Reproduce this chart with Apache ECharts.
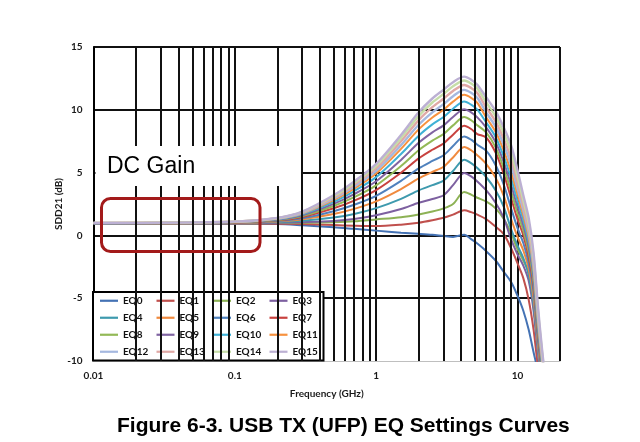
<!DOCTYPE html>
<html><head><meta charset="utf-8">
<script src="https://cdn.jsdelivr.net/npm/echarts@6/dist/echarts.min.js"></script>
<style>html,body{margin:0;padding:0;background:#fff;}#c{width:640px;height:442px;}</style>
</head><body><div id="c"></div>
<script>
// ---------- DATA ----------
const freqGHz = [0.01, 0.1, 0.2, 0.3, 0.5, 0.7, 1, 1.5, 2, 2.5, 3, 3.5, 4.2, 4.7, 5.2, 6, 7, 8, 9, 10, 11, 12, 13, 14, 15, 16];

const eq0  = [0.95, 0.93, 0.9, 0.8, 0.65, 0.52, 0.38, 0.22, 0.13, 0.05, -0.05, -0.12, 0.05, -0.3, -0.65, -1.25, -2.0, -2.9, -3.7, -4.8, -6.0, -7.5, -9.3, -10.8, -12, -13];
const eq1  = [0.95, 0.95, 0.93, 0.9, 0.82, 0.77, 0.74, 0.85, 1.0, 1.2, 1.4, 1.65, 2.0, 1.85, 1.65, 1.3, 0.7, 0.1, -1.0, -2.2, -3.4, -5.1, -7.5, -10.5, -12, -13];
const eq2  = [0.95, 0.97, 0.98, 1.0, 1.05, 1.12, 1.27, 1.45, 1.67, 1.9, 2.15, 2.5, 3.45, 3.25, 3.0, 2.7, 2.15, 1.3, 0.2, -1.1, -2.0, -3.0, -5.6, -9.0, -11.5, -13];
const eq3  = [0.95, 0.97, 1.0, 1.05, 1.15, 1.3, 1.6, 2.1, 2.6, 2.9, 3.2, 4.0, 4.97, 4.7, 4.3, 3.6, 2.6, 1.4, -0.3, -1.5, -2.4, -3.6, -6.0, -9.5, -12, -13];
const eq4  = [0.96, 0.99, 1.06, 1.17, 1.43, 1.71, 2.17, 2.91, 3.59, 4.0, 4.36, 5.13, 6.03, 5.76, 5.36, 4.65, 3.6, 2.28, 0.53, -0.8, -1.8, -3.13, -5.5, -9.13, -11.75, -13];
const eq5  = [0.96, 1.0, 1.11, 1.28, 1.7, 2.11, 2.71, 3.69, 4.54, 5.06, 5.47, 6.21, 7.04, 6.78, 6.38, 5.7, 4.6, 3.15, 1.35, -0.1, -1.2, -2.65, -5.0, -8.75, -11.5, -13];
const eq6  = [0.97, 1.02, 1.15, 1.37, 1.93, 2.44, 3.15, 4.34, 5.33, 5.93, 6.38, 7.11, 7.88, 7.62, 7.22, 6.75, 5.6, 4.03, 2.18, 0.6, -0.6, -2.18, -4.5, -8.38, -11.25, -13];
const eq7  = [0.98, 1.03, 1.2, 1.47, 2.16, 2.77, 3.61, 4.99, 6.13, 6.82, 7.32, 8.02, 8.73, 8.47, 8.07, 7.8, 6.6, 4.9, 3.0, 1.3, 0.0, -1.7, -4.0, -8.0, -11, -13];
const eq8  = [0.98, 1.05, 1.23, 1.54, 2.34, 3.04, 3.98, 5.52, 6.78, 7.54, 8.07, 8.76, 9.42, 9.17, 8.77, 8.2, 7.01, 5.36, 3.53, 1.79, 0.4, -1.31, -3.68, -7.73, -10.79, -12.88];
const eq9  = [0.98, 1.06, 1.27, 1.61, 2.51, 3.29, 4.31, 6.01, 7.37, 8.2, 8.76, 9.43, 10.05, 9.8, 9.4, 8.6, 7.43, 5.83, 4.05, 2.28, 0.8, -0.93, -3.35, -7.45, -10.58, -12.75];
const eq10 = [0.99, 1.07, 1.3, 1.68, 2.67, 3.53, 4.64, 6.48, 7.94, 8.84, 9.43, 10.08, 10.66, 10.41, 10.01, 9.0, 7.84, 6.29, 4.58, 2.76, 1.2, -0.54, -3.03, -7.18, -10.36, -12.63];
const eq11 = [0.99, 1.08, 1.32, 1.74, 2.81, 3.73, 4.93, 6.89, 8.44, 9.39, 10.01, 10.65, 11.19, 10.95, 10.55, 9.4, 8.25, 6.75, 5.1, 3.25, 1.6, -0.15, -2.7, -6.9, -10.15, -12.5];
const eq12 = [0.99, 1.08, 1.35, 1.78, 2.92, 3.89, 5.14, 7.19, 8.81, 9.8, 10.45, 11.08, 11.59, 11.35, 10.95, 9.8, 8.66, 7.21, 5.63, 3.74, 2.0, 0.24, -2.38, -6.63, -9.94, -12.38];
const eq13 = [1.0, 1.09, 1.37, 1.83, 3.02, 4.04, 5.35, 7.49, 9.18, 10.21, 10.88, 11.5, 11.98, 11.74, 11.34, 10.2, 9.08, 7.68, 6.15, 4.23, 2.4, 0.63, -2.05, -6.35, -9.73, -12.25];
const eq14 = [1.0, 1.1, 1.38, 1.87, 3.12, 4.18, 5.54, 7.76, 9.51, 10.58, 11.26, 11.87, 12.33, 12.09, 11.69, 10.6, 9.49, 8.14, 6.68, 4.71, 2.8, 1.01, -1.73, -6.08, -9.51, -12.13];
const eq15 = [1.0, 1.1, 1.4, 1.9, 3.2, 4.3, 5.7, 8.0, 9.8, 10.9, 11.6, 12.2, 12.64, 12.4, 12.0, 11.0, 9.9, 8.6, 7.2, 5.2, 3.2, 1.4, -1.4, -5.8, -9.3, -12];

const seriesNames = ['EQ0','EQ1','EQ2','EQ3','EQ4','EQ5','EQ6','EQ7','EQ8','EQ9','EQ10','EQ11','EQ12','EQ13','EQ14','EQ15'];
const seriesColors = ['#4472B4','#C0504D','#8DB255','#7D60A0','#3E9AAE','#F08A3E','#4F81BD','#C8423F','#93B957','#8064A2','#3FB1D6','#F7923F','#A5B8DF','#E0A9A6','#C6DDA8','#BCB0D3'];
const xTickLabels = ['0.01', '0.1', '1', '10'];
const minorGridFreqs = [0.02,0.03,0.04,0.05,0.06,0.07,0.08,0.09,0.2,0.3,0.4,0.5,0.6,0.7,0.8,0.9,2,3,4,5,6,7,8,9,20];

// ---------- CHART ----------
const allValues = [eq0,eq1,eq2,eq3,eq4,eq5,eq6,eq7,eq8,eq9,eq10,eq11,eq12,eq13,eq14,eq15];
const boldFont = {fontFamily: 'Lato', fontWeight: 'bold', fontSize: 10, color: '#1a1a1a'};

const series = allValues.map((vals, k) => ({
  name: seriesNames[k],
  type: 'line',
  data: freqGHz.map((f, i) => [f, vals[i]]),
  symbol: 'none',
  smooth: 0.3,
  clip: true,
  z: 3,
  lineStyle: {width: k >= 12 ? 2.4 : 2, color: seriesColors[k]},
  itemStyle: {color: seriesColors[k]},
  emphasis: {disabled: true}
}));

series.unshift({
  name: 'grid',
  type: 'line',
  data: [],
  z: 1,
  silent: true,
  markLine: {
    silent: true,
    symbol: ['none', 'none'],
    label: {show: false},
    animation: false,
    lineStyle: {color: '#111', width: 2, type: 'solid'},
    emphasis: {disabled: true},
    data: minorGridFreqs.map(f => ({xAxis: f}))
  }
});

const option = {
  animation: false,
  backgroundColor: '#fff',
  grid: {left: 93.5, top: 47, width: 466.5, height: 314},
  title: {
    text: 'Figure 6-3. USB TX (UFP) EQ Settings Curves',
    left: 117, top: 416, padding: 0,
    textStyle: {fontFamily: 'Liberation Sans', fontWeight: 'bold', fontSize: 21, color: '#000'}
  },
  legend: {
    data: seriesNames,
    left: 93, top: 292,
    width: 240,
    orient: 'horizontal',
    icon: 'rect',
    itemGap: 5.5,
    itemWidth: 18,
    itemHeight: 2.2,
    padding: [3, 3, 3, 7],
    backgroundColor: '#fff',
    borderColor: '#000',
    borderWidth: 2,
    selectedMode: false,
    textStyle: Object.assign({}, boldFont, {color: '#111', width: 28, lineHeight: 11.5, overflow: 'none'})
  },
  xAxis: {
    type: 'log', logBase: 10, min: 0.01, max: 20,
    name: 'Frequency (GHz)', nameLocation: 'middle', nameGap: 28,
    nameTextStyle: boldFont,
    axisLine: {show: true, onZero: false, lineStyle: {color: '#BFBFBF', width: 1}},
    axisTick: {show: false},
    axisLabel: Object.assign({}, boldFont, {
      margin: 10,
      formatter: function (v) {
        const e = Math.log10(v);
        const r = Math.round(e);
        if (Math.abs(e - r) > 1e-6) return '';
        const idx = r + 2;
        return xTickLabels[idx] !== undefined ? xTickLabels[idx] : '';
      }
    }),
    splitLine: {show: true, lineStyle: {color: '#111', width: 2}},
    minorTick: {show: false}, minorSplitLine: {show: false}
  },
  yAxis: {
    type: 'value', min: -10, max: 15, interval: 5,
    name: 'SDD21 (dB)', nameLocation: 'middle', nameGap: 30, nameMoveOverlap: false,
    nameTextStyle: boldFont,
    axisLine: {show: true, lineStyle: {color: '#000', width: 2}},
    axisTick: {show: false},
    axisLabel: Object.assign({}, boldFont, {margin: 11}),
    splitLine: {show: true, showMinLine: false, lineStyle: {color: '#111', width: 2}}
  },
  series: series,
  graphic: [
    {type: 'rect', silent: true, z: 10, shape: {x: 95.5, y: 146, width: 205.5, height: 40}, style: {fill: '#fff'}},
    {type: 'text', silent: true, z: 11, x: 107, y: 167,
      style: {text: 'DC Gain', fontFamily: 'Liberation Sans', fontSize: 23, fill: '#000',
              align: 'left', verticalAlign: 'middle', textAlign: 'left', textVerticalAlign: 'middle'}},
    {type: 'rect', silent: true, z: 11, shape: {x: 101.5, y: 198.5, width: 158.5, height: 53, r: 9},
      style: {fill: 'none', stroke: '#A31A1A', lineWidth: 3}}
  ]
};

const chart = echarts.init(document.getElementById('c'), null, {renderer: 'canvas'});
chart.setOption(option);
</script>
</body></html>
